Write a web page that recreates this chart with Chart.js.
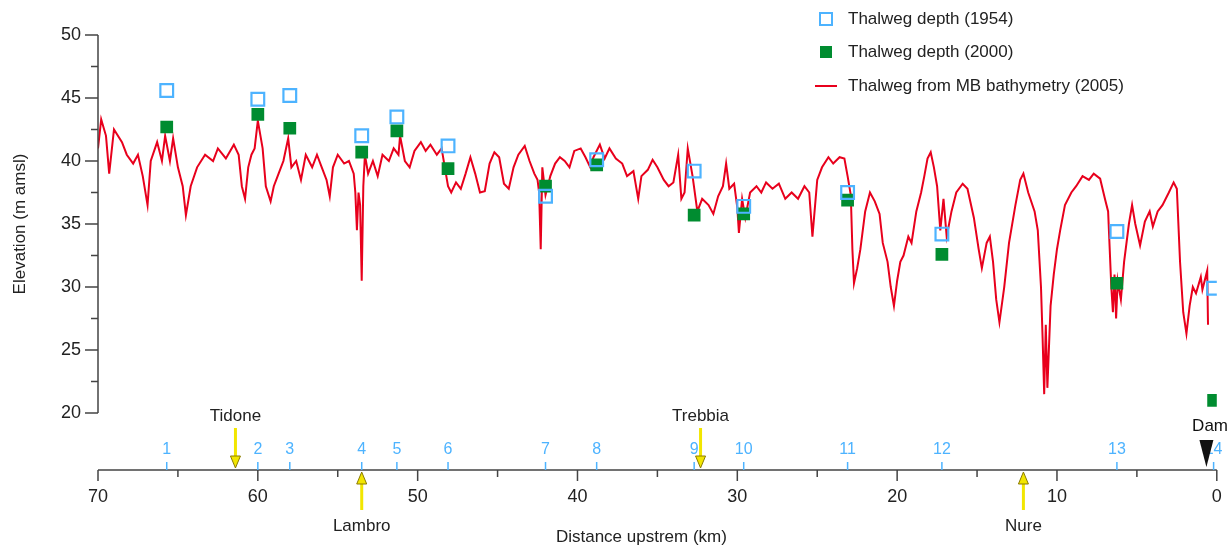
<!DOCTYPE html>
<html>
<head>
<meta charset="utf-8">
<script src="https://cdn.jsdelivr.net/npm/chart.js@4"></script>
<style>
  html, body { margin: 0; padding: 0; background: #fff; }
  #wrap { width: 1228px; height: 551px; position: relative; }
</style>
</head>
<body>
<div id="wrap"><canvas id="c" width="1228" height="551"></canvas></div>
<script>
// cross sections (km upstream of dam) and thalweg depths
const sectionKm = [65.7, 60.0, 58.0, 53.5, 51.3, 48.1, 42.0, 38.8, 32.7, 29.6, 23.1, 17.2, 6.25, 0.2];
const depth1954 = [45.6, 44.9, 45.2, 42.0, 43.5, 41.2, 37.2, 40.1, 39.2, 36.4, 37.5, 34.2, 34.4, 29.9];
const depth2000 = [42.7, 43.7, 42.6, 40.7, 42.4, 39.4, 38.0, 39.7, 35.7, 35.8, 36.9, 32.6, 30.3, 21.0];

// MB bathymetry thalweg 2005: [km, elevation]
const mbThalweg = [
  [70,41],[69.8,43.3],[69.5,42],[69.3,39],[69,42.5],[68.5,41.5],[68.2,40.5],[67.8,39.8],[67.5,40.5],[67.2,38.8],
  [66.9,36.5],[66.7,40],[66.3,41.5],[66,40],[65.8,42],[65.5,40],[65.3,41.8],[65,39.5],[64.7,38],[64.5,35.7],
  [64.2,38],[63.8,39.5],[63.3,40.5],[62.8,40],[62.5,41],[62,40.2],[61.5,41.3],[61.2,40.5],[61,38],[60.8,37],
  [60.6,39.5],[60.4,40.5],[60.2,41],[60,43.2],[59.7,41],[59.5,38],[59.2,36.8],[59,38],[58.7,39],[58.4,40],
  [58.1,41.8],[57.9,39.5],[57.6,40],[57.3,38.5],[57,40.5],[56.6,39.5],[56.3,40.5],[56,39.5],[55.7,38.5],[55.5,37.2],
  [55.3,39.5],[55,40.5],[54.6,39.8],[54.3,40],[54,39],[53.9,37.5],[53.8,34.5],[53.7,37.5],[53.6,36.5],[53.5,30.5],
  [53.4,38],[53.3,40.5],[53.1,39],[52.8,40],[52.5,38.8],[52.2,40.5],[51.8,40],[51.5,41],[51.2,40.5],[51.1,42],
  [50.8,40],[50.5,39.5],[50.2,40.8],[49.8,41.5],[49.5,40.8],[49.2,41.3],[48.8,40.5],[48.5,41],[48.3,39.5],[48.1,38],
  [47.9,37.5],[47.6,38.3],[47.3,37.8],[47,39],[46.7,40.3],[46.4,39],[46.1,37.5],[45.8,37.6],[45.5,39.8],[45.2,40.7],
  [44.9,40.3],[44.6,38.2],[44.3,37.8],[44,39.5],[43.7,40.5],[43.3,41.2],[43,40],[42.7,39],[42.5,38.5],[42.4,37.5],
  [42.3,33],[42.2,39.5],[42,37.3],[41.7,38.8],[41.4,39.8],[41.1,40.3],[40.8,40],[40.5,39.5],[40.2,40.8],[39.8,41],
  [39.5,40.3],[39.2,39.5],[39,40.3],[38.6,41.3],[38.3,40.2],[38,41],[37.6,40.2],[37.2,39.8],[36.9,38.8],[36.5,39.2],
  [36.2,37],[36,38.8],[35.6,39.3],[35.3,40.1],[35,39.5],[34.6,38.5],[34.3,38],[34,38.3],[33.7,40.5],[33.5,37],
  [33.3,37.5],[33.1,41],[32.8,38.8],[32.5,36],[32.2,37],[31.8,36.5],[31.5,35.8],[31.2,37.2],[30.9,38],[30.7,39.8],
  [30.5,37.8],[30.2,38.2],[30,36.3],[29.9,34.3],[29.7,37],[29.5,35.5],[29.2,37.5],[28.8,38],[28.5,37.5],[28.2,38.3],
  [27.8,37.8],[27.4,38.2],[27,37],[26.6,37.5],[26.2,37],[25.8,38],[25.5,37.5],[25.3,34],[25,38.5],[24.7,39.5],
  [24.3,40.3],[24,39.8],[23.6,40.3],[23.3,40.2],[23.1,38.8],[22.9,37.3],[22.8,33],[22.7,30.3],[22.5,31.5],[22.3,33],
  [22,36],[21.7,37.5],[21.4,36.8],[21.1,35.8],[20.9,33.5],[20.6,32],[20.4,30],[20.2,28.5],[20,30.5],[19.8,32],
  [19.6,32.5],[19.3,34],[19.1,33.5],[18.8,36],[18.5,37.5],[18.3,38.8],[18.1,40.2],[17.9,40.7],[17.7,39.5],[17.5,38],
  [17.3,34.5],[17.1,37],[16.9,34],[16.6,36],[16.3,37.5],[15.9,38.2],[15.6,37.8],[15.2,35.5],[14.9,33],[14.7,31.5],
  [14.4,33.5],[14.2,34],[14,32],[13.8,29],[13.6,27.2],[13.3,30],[13,33.5],[12.6,36.5],[12.3,38.5],[12.1,39],
  [11.8,37.5],[11.4,36],[11.2,34.5],[11,30],[10.9,26],[10.8,21.5],[10.7,27],[10.6,22],[10.4,28.5],[10.2,31],
  [10,33],[9.8,34.5],[9.5,36.5],[9.1,37.5],[8.8,38],[8.4,38.8],[8,38.5],[7.7,39],[7.3,38.6],[7,37],
  [6.8,36],[6.6,30],[6.5,28],[6.4,31],[6.3,27.5],[6.2,30.5],[6,29],[5.8,32],[5.5,35],[5.3,36.5],
  [5.1,35],[4.8,33.3],[4.5,35.2],[4.2,36],[4,34.8],[3.7,36],[3.4,36.5],[3,37.5],[2.7,38.3],[2.5,37.8],
  [2.3,32],[2.1,28],[1.9,26.3],[1.7,28.5],[1.5,30],[1.3,29.5],[1,30.8],[0.9,29.8],[0.6,31.3],[0.55,27]
];

// tributaries: name, km, arrow direction (down = from above the axis)
const tributaries = [
  ['Tidone', 61.4, 'down'], ['Lambro', 53.5, 'up'], ['Trebbia', 32.3, 'down'], ['Nure', 12.1, 'up']
];
const damKm = 0.65;
const yTicks = [20, 25, 30, 35, 40, 45, 50];
const xTicks = [70, 60, 50, 40, 30, 20, 10, 0];

const FONT = '"Liberation Sans", Arial, sans-serif';
const BLUE = '#4db3ff';
const GREEN = '#008c30';
const RED = '#e8001c';

const axesPlugin = {
  id: 'axes',
  afterDraw(chart) {
    const ctx = chart.ctx;
    const xs = chart.scales.x, ys = chart.scales.y;
    const ca = chart.chartArea;
    ctx.save();
    ctx.strokeStyle = '#444';
    ctx.fillStyle = '#222';
    ctx.lineWidth = 1.5;

    // y axis
    const left = ca.left;
    ctx.beginPath();
    ctx.moveTo(left, ys.getPixelForValue(20));
    ctx.lineTo(left, ys.getPixelForValue(50));
    for (let v = 20; v <= 50; v += 2.5) {
      const py = ys.getPixelForValue(v);
      ctx.moveTo(left, py);
      ctx.lineTo(left - (v % 5 === 0 ? 13 : 7), py);
    }
    ctx.stroke();
    ctx.font = '18px ' + FONT;
    ctx.textAlign = 'right';
    ctx.textBaseline = 'middle';
    yTicks.forEach(v => ctx.fillText(String(v), left - 17, ys.getPixelForValue(v)));
    ctx.save();
    ctx.translate(20, ys.getPixelForValue(35));
    ctx.rotate(-Math.PI / 2);
    ctx.textAlign = 'center';
    ctx.font = '17px ' + FONT;
    ctx.fillText('Elevation (m amsl)', 0, 0);
    ctx.restore();

    // x axis
    const base = ca.bottom;
    ctx.beginPath();
    ctx.moveTo(xs.getPixelForValue(70), base);
    ctx.lineTo(xs.getPixelForValue(0), base);
    for (let v = 0; v <= 70; v += 5) {
      const px = xs.getPixelForValue(v);
      ctx.moveTo(px, base);
      ctx.lineTo(px, base + (v % 10 === 0 ? 11 : 7));
    }
    ctx.stroke();
    ctx.textAlign = 'center';
    ctx.font = '18px ' + FONT;
    xTicks.forEach(v => ctx.fillText(String(v), xs.getPixelForValue(v), base + 27));
    ctx.font = '17px ' + FONT;
    ctx.fillText('Distance upstrem (km)', xs.getPixelForValue(36), base + 67);

    // cross-section marks
    ctx.strokeStyle = BLUE;
    ctx.fillStyle = BLUE;
    ctx.lineWidth = 1.5;
    ctx.font = '16px ' + FONT;
    sectionKm.forEach((km, i) => {
      const px = xs.getPixelForValue(km);
      ctx.beginPath();
      ctx.moveTo(px, base);
      ctx.lineTo(px, base - 8);
      ctx.stroke();
      ctx.fillText(String(i + 1), px, base - 20);
    });

    // tributary arrows
    tributaries.forEach(([name, km, dir]) => {
      const px = xs.getPixelForValue(km);
      let y0, y1, ly;
      if (dir === 'down') { y0 = base - 42; y1 = base - 2; ly = base - 54; }
      else { y0 = base + 40; y1 = base + 2; ly = base + 56; }
      ctx.strokeStyle = '#8a7a00';
      ctx.fillStyle = '#f2e600';
      ctx.lineWidth = 1;
      const s = dir === 'down' ? 1 : -1;
      ctx.fillRect(px - 1.5, Math.min(y0, y1 - s * 12), 3, Math.abs(y1 - s * 12 - y0));
      ctx.beginPath();
      ctx.moveTo(px - 5, y1 - s * 12);
      ctx.lineTo(px + 5, y1 - s * 12);
      ctx.lineTo(px, y1);
      ctx.closePath();
      ctx.fill();
      ctx.stroke();
      ctx.fillStyle = '#222';
      ctx.font = '17px ' + FONT;
      ctx.fillText(name, px, ly);
    });

    // dam
    const dx = xs.getPixelForValue(damKm);
    ctx.fillStyle = '#111';
    ctx.beginPath();
    ctx.moveTo(dx - 7, base - 30);
    ctx.lineTo(dx + 7, base - 30);
    ctx.lineTo(dx, base - 3);
    ctx.closePath();
    ctx.fill();
    ctx.textAlign = 'right';
    ctx.fillText('Dam', 1228, base - 44);

    // legend
    ctx.textAlign = 'left';
    ctx.fillStyle = '#222';
    ctx.font = '17px ' + FONT;
    ctx.strokeStyle = BLUE;
    ctx.lineWidth = 2;
    ctx.strokeRect(820, 13, 12, 12);
    ctx.fillText('Thalweg depth (1954)', 848, 19);
    ctx.fillStyle = GREEN;
    ctx.fillRect(820, 46, 12, 12);
    ctx.fillStyle = '#222';
    ctx.fillText('Thalweg depth (2000)', 848, 52);
    ctx.strokeStyle = RED;
    ctx.beginPath();
    ctx.moveTo(815, 86);
    ctx.lineTo(837, 86);
    ctx.stroke();
    ctx.fillText('Thalweg from MB bathymetry (2005)', 848, 86);
    ctx.restore();
  }
};

new Chart(document.getElementById('c'), {
  type: 'scatter',
  data: {
    datasets: [
      {
        label: 'Thalweg from MB bathymetry (2005)',
        data: mbThalweg.map(([x, y]) => ({ x, y })),
        showLine: true, borderColor: RED, borderWidth: 2, pointRadius: 0, tension: 0, order: 3
      },
      {
        label: 'Thalweg depth (2000)',
        data: sectionKm.map((x, i) => ({ x, y: depth2000[i] })),
        pointStyle: 'rect', pointRadius: 9, backgroundColor: GREEN, borderColor: GREEN, borderWidth: 0, order: 2
      },
      {
        label: 'Thalweg depth (1954)',
        data: sectionKm.map((x, i) => ({ x, y: depth1954[i] })),
        pointStyle: 'rect', pointRadius: 9, backgroundColor: 'rgba(0,0,0,0)', borderColor: BLUE, borderWidth: 2.2, order: 1
      }
    ]
  },
  options: {
    responsive: false,
    animation: false,
    layout: { padding: { left: 98, top: 35, right: 11, bottom: 81 } },
    plugins: { legend: { display: false }, tooltip: { enabled: false } },
    scales: {
      x: { type: 'linear', min: 0, max: 70, reverse: true, display: false },
      y: { type: 'linear', min: 15.48, max: 50, display: false }
    }
  },
  plugins: [axesPlugin]
});
</script>
</body>
</html>
